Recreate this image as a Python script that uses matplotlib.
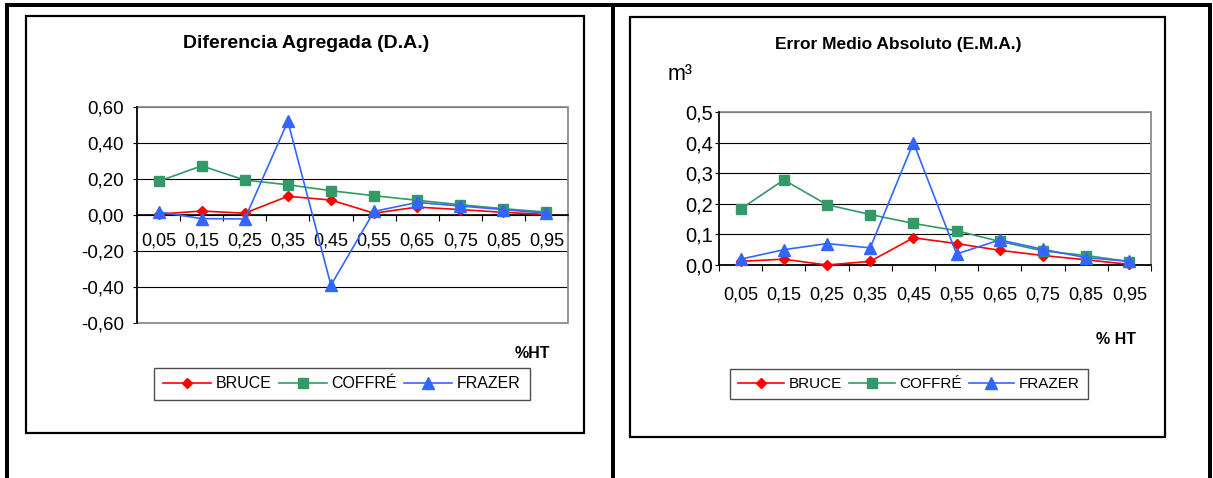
import numpy as np
import matplotlib
matplotlib.use("Agg")  # no display in the sandbox
import matplotlib.pyplot as plt
from matplotlib.patches import Rectangle

W, H, DPI = 1213, 478, 100

# ---------- data ----------

X_LABELS = ["0,05", "0,15", "0,25", "0,35", "0,45", "0,55", "0,65", "0,75", "0,85", "0,95"]
SERIES = ["BRUCE", "COFFRÉ", "FRAZER"]

# Diferencia Agregada (D.A.)
DA_BRUCE  = [0.005, 0.022, 0.010, 0.104, 0.083, 0.010, 0.044, 0.030, 0.015, 0.003]
DA_COFFRE = [0.187, 0.273, 0.194, 0.168, 0.135, 0.107, 0.082, 0.057, 0.035, 0.016]
DA_FRAZER = [0.017, -0.020, -0.022, 0.520, -0.390, 0.020, 0.070, 0.050, 0.030, 0.010]
DA_YTICKS = [-0.6, -0.4, -0.2, 0.0, 0.2, 0.4, 0.6]
DA_YLABELS = ["-0,60", "-0,40", "-0,20", "0,00", "0,20", "0,40", "0,60"]

# Error Medio Absoluto (E.M.A.)
EMA_BRUCE  = [0.012, 0.019, 0.000, 0.012, 0.089, 0.070, 0.048, 0.031, 0.017, 0.002]
EMA_COFFRE = [0.183, 0.278, 0.197, 0.165, 0.136, 0.112, 0.077, 0.046, 0.031, 0.011]
EMA_FRAZER = [0.019, 0.050, 0.070, 0.056, 0.400, 0.036, 0.082, 0.051, 0.024, 0.012]
EMA_YTICKS = [0.0, 0.1, 0.2, 0.3, 0.4, 0.5]
EMA_YLABELS = ["0,0", "0,1", "0,2", "0,3", "0,4", "0,5"]

# colour, marker, marker size
STYLES = [
  ("#FF0000", "D", 5.5),
  ("#339966", "s", 6.5),
  ("#3366FF", "^", 8.0),
]

plt.rcParams["font.family"] = ["Liberation Sans", "DejaVu Sans"]


# ---------- pixel helpers ----------

def px_axes(fig, x0, y0, x1, y1):
  """Axes from pixel box (top-left origin)."""
  return fig.add_axes([x0 / W, 1 - y1 / H, (x1 - x0) / W, (y1 - y0) / H])


def px_text(fig, x, y, s, **kw):
  fig.text(x / W, 1 - y / H, s, ha="center", va="center", **kw)


def px(v):
  """pixels -> points"""
  return v * 72.0 / DPI


# ---------- drawing ----------

def draw_frame(fig):
  bg = fig.add_axes([0, 0, 1, 1], zorder=-5)
  bg.set_xlim(0, W)
  bg.set_ylim(H, 0)
  bg.axis("off")
  lw = px(4)
  bg.plot([5, 1212], [5, 5], color="black", lw=lw, solid_capstyle="butt")
  for x in (7, 613, 1210):
    bg.plot([x, x], [3, H], color="black", lw=lw, solid_capstyle="butt")
  for (x0, y0, x1, y1) in [(26, 16, 584, 433), (630, 17, 1165, 437)]:
    bg.add_patch(Rectangle((x0, y0), x1 - x0, y1 - y0, fill=False,
                           edgecolor="black", lw=px(2.2)))


def draw_chart(ax, series, yticks, ylabels, cross_zero, ylab_size, ylab_pad, xlab_pad):
  x = np.arange(len(X_LABELS))
  for vals, name, (color, marker, ms) in zip(series, SERIES, STYLES):
    ax.plot(x, vals, color=color, lw=1.2, marker=marker, ms=ms,
            markeredgecolor=color, label=name, clip_on=False, zorder=4)

  ax.set_xlim(-0.5, len(X_LABELS) - 0.5)
  ax.set_ylim(yticks[0], yticks[-1])
  ax.set_yticks(yticks)
  ax.set_yticklabels(ylabels)
  ax.tick_params(axis="y", direction="out", length=px(4.5), width=0.8,
                 pad=ylab_pad, labelsize=ylab_size, colors="black")

  # tick marks between categories, labels in the middle
  ax.set_xticks(np.arange(-0.5, len(X_LABELS), 1.0))
  ax.set_xticklabels([])
  ax.set_xticks(x, minor=True)
  ax.set_xticklabels(X_LABELS, minor=True)
  ax.tick_params(axis="x", which="major", direction="out", length=px(6), width=0.8)
  ax.tick_params(axis="x", which="minor", length=0, pad=xlab_pad, labelsize=13)

  ax.grid(axis="y", color="black", lw=0.8)
  ax.set_axisbelow(True)

  for side in ("top", "right"):
    ax.spines[side].set_visible(False)
  ax.spines["left"].set_color("black")
  ax.spines["left"].set_linewidth(1.2)
  ax.spines["left"].set_zorder(3)
  ax.spines["bottom"].set_color("black")
  ax.spines["bottom"].set_linewidth(1.2)
  ax.spines["bottom"].set_zorder(3)
  if cross_zero:
    ax.spines["bottom"].set_position(("data", 0))

  # grey plot-area border
  ax.add_patch(Rectangle((0, 0), 1, 1, transform=ax.transAxes, fill=False,
                         edgecolor="#8c8c8c", lw=1.3, zorder=2.6, clip_on=False))


def add_legend(ax, fig, cx, cy, fontsize):
  leg = ax.legend(loc="center", bbox_to_anchor=(cx / W, 1 - cy / H),
                  bbox_transform=fig.transFigure, ncol=3, fontsize=fontsize,
                  frameon=True, fancybox=False, edgecolor="#222222",
                  handlelength=3.0, handletextpad=0.3, columnspacing=0.45,
                  borderpad=0.55, borderaxespad=0)
  leg.get_frame().set_linewidth(1.0)


def main():
  fig = plt.figure(figsize=(W / DPI, H / DPI), dpi=DPI)
  draw_frame(fig)

  ax1 = px_axes(fig, 137, 107, 568, 323)
  draw_chart(ax1, [DA_BRUCE, DA_COFFRE, DA_FRAZER], DA_YTICKS, DA_YLABELS,
             cross_zero=True, ylab_size=13.5, ylab_pad=6.0, xlab_pad=12.5)
  add_legend(ax1, fig, 342, 384, 11.5)
  px_text(fig, 306, 44, "Diferencia Agregada (D.A.)", fontsize=14, fontweight="bold")
  px_text(fig, 532, 354, "%HT", fontsize=11.5, fontweight="bold")

  ax2 = px_axes(fig, 719, 112, 1151, 265)
  draw_chart(ax2, [EMA_BRUCE, EMA_COFFRE, EMA_FRAZER], EMA_YTICKS, EMA_YLABELS,
             cross_zero=False, ylab_size=14.5, ylab_pad=0.8, xlab_pad=15.5)
  add_legend(ax2, fig, 909, 384, 11)
  px_text(fig, 898, 45, "Error Medio Absoluto (E.M.A.)", fontsize=12.5, fontweight="bold")
  px_text(fig, 1116, 340, "% HT", fontsize=11.5, fontweight="bold")
  px_text(fig, 680, 75, "m³", fontsize=15.5)

  fig.savefig("out.png", dpi=DPI)
  plt.close(fig)


if __name__ == "__main__":
  main()
